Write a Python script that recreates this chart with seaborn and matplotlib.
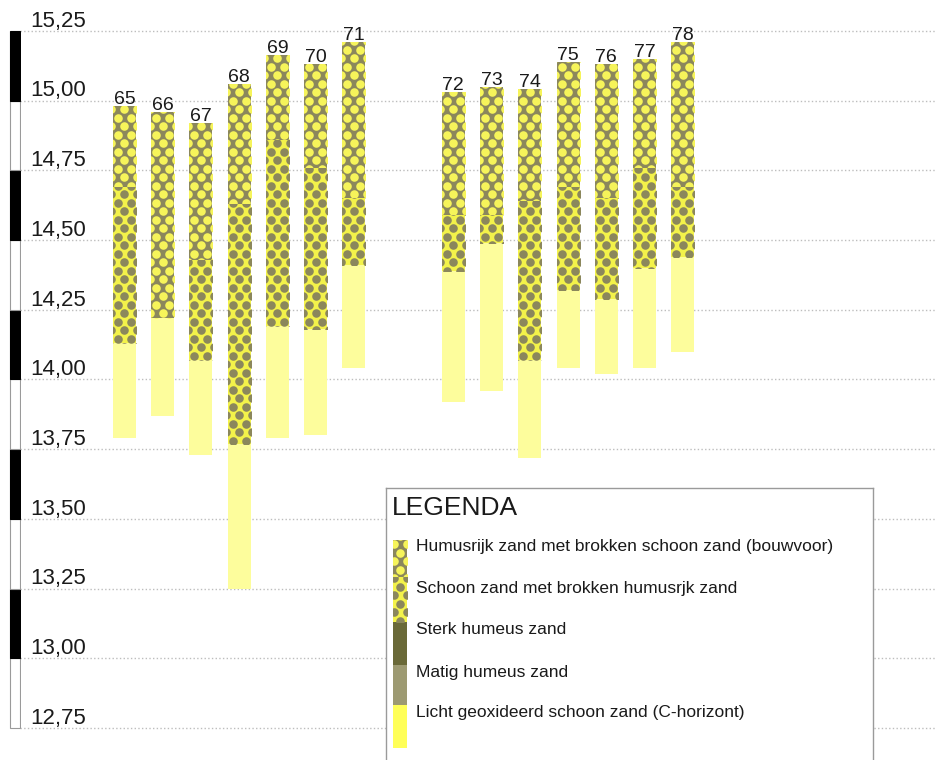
"""
Bodemprofielen 65-78: opbouw van de bodem per boorpunt, getekend als gestapelde kolommen
op een hoogteschaal (m), met een eigen legenda-kader.
"""
import numpy as np
import pandas as pd
import matplotlib
matplotlib.use("Agg")
import matplotlib.pyplot as plt
from matplotlib.patches import Rectangle
import seaborn as sns

profielen = [65, 66, 67, 68, 69, 70, 71, 72, 73, 74, 75, 76, 77, 78]
maaiveld = [14.98, 14.96, 14.92, 15.06, 15.165, 15.13, 15.21,
            15.03, 15.05, 15.04, 15.14, 15.13, 15.15, 15.21]
bouwvoor_onder = [14.69, 14.22, 14.43, 14.63, 14.86, 14.76, 14.65,
                  14.59, 14.59, 14.64, 14.69, 14.65, 14.76, 14.69]
menglaag_onder = [14.13, 14.22, 14.07, 13.77, 14.19, 14.18, 14.41,
                  14.39, 14.49, 14.07, 14.32, 14.29, 14.40, 14.44]
c_horizont_onder = [13.79, 13.87, 13.73, 13.25, 13.79, 13.80, 14.04,
                    13.92, 13.96, 13.72, 14.04, 14.02, 14.04, 14.10]

hoogte_ticks = [12.75, 13.00, 13.25, 13.50, 13.75, 14.00,
                14.25, 14.50, 14.75, 15.00, 15.25]

legenda_labels = [
    "Humusrijk zand met brokken schoon zand (bouwvoor)",
    "Schoon zand met brokken humusrjk zand",
    "Sterk humeus zand",
    "Matig humeus zand",
    "Licht geoxideerd schoon zand (C-horizont)",
]

# --- stijl ------------------------------------------------------------------
OLIJF = "#8b875c"
GEEL = "#f3f24a"
GEEL_STIP = "#f6f45a"
BLEEK = "#fdfd9c"
STERK = "#6a6938"
MATIG = "#9d9a72"
LICHT = "#ffff58"
TEKST = "#1a1a1a"

W, H = 936, 760
GROEP_GAT = 1.6            # extra ruimte tussen profiel 71 en 72
DOT_DX, DOT_DY = 13, 8.5   # stippenraster in pixels
DOT_SIZE = 38

sns.set_style("white")
plt.rcParams["font.family"] = ["Liberation Sans", "DejaVu Sans"]


def stippen(ax, bars, kleur, px_per_x, px_per_y):
    """Vul elke balk met een verspringend stippenpatroon (geclipt op de balk)."""
    dx = DOT_DX / px_per_x
    dy = DOT_DY / px_per_y
    for bar in bars:
        x0, y0 = bar.get_x(), bar.get_y()
        w, h = bar.get_width(), bar.get_height()
        if h <= 0:
            continue
        ylo, yhi = min(y0, y0 + h), max(y0, y0 + h)
        xs, ys = [], []
        for r in np.arange(np.floor(ylo / dy) - 1, np.ceil(yhi / dy) + 2):
            start = x0 + w / 2 - dx / 2 if r % 2 == 0 else x0 + w / 2 - dx
            cols = start + dx * np.arange(-1, int(np.ceil(w / dx)) + 3)
            xs.extend(cols)
            ys.extend([r * dy] * len(cols))
        pts = ax.scatter(xs, ys, s=DOT_SIZE, color=kleur, linewidths=0,
                         zorder=bar.get_zorder() + 0.1)
        pts.set_clip_path(bar)


df = pd.DataFrame({
    "profiel": profielen,
    "maaiveld": maaiveld,
    "bouwvoor": bouwvoor_onder,
    "menglaag": menglaag_onder,
    "c_horizont": c_horizont_onder,
})
df["x"] = np.arange(len(df)) + np.where(df["profiel"] >= 72, GROEP_GAT, 0.0)

fig = plt.figure(figsize=(W / 100, H / 100), dpi=100)
ax = fig.add_axes([20 / W, 0, 916 / W, 1])

xlim = (-2.73, -2.73 + 916 / 38.25)
ylim = (12.635, 15.361)

lagen = [
    ("maaiveld", "bouwvoor", OLIJF, GEEL_STIP),
    ("bouwvoor", "menglaag", GEEL, OLIJF),
    ("menglaag", "c_horizont", BLEEK, None),
]
containers = []
for boven, onder, kleur, _ in lagen:
    sns.barplot(x=df["x"], y=df[boven] - df[onder], bottom=df[onder].to_numpy(),
                native_scale=True, width=0.6, color=kleur, saturation=1,
                errorbar=None, linewidth=0, ax=ax, zorder=2)
    containers.append(ax.containers[-1])

ax.set_xlim(*xlim)
ax.set_ylim(*ylim)
px_x = 916 / (xlim[1] - xlim[0])
px_y = H / (ylim[1] - ylim[0])
for (boven, onder, kleur, stip), bars in zip(lagen, containers):
    if stip is not None:
        stippen(ax, bars, stip, px_x, px_y)

# profielnummers boven de kolommen
for xpos, top, nr in zip(df["x"], df["maaiveld"], df["profiel"]):
    ax.annotate(str(nr), xy=(xpos, top), xytext=(0, 1.5), textcoords="offset points",
                ha="center", va="baseline", fontsize=14, color=TEKST,
                family=["Liberation Sans Narrow", "Liberation Sans", "DejaVu Sans"])

# hoogteschaal: rasterlijnen en labels boven de lijn
ax.set_yticks(hoogte_ticks)
ax.grid(axis="y", color="#bdbdbd", linestyle=":", linewidth=1.0, zorder=0)
ax.grid(axis="x", visible=False)
ax.tick_params(left=False, bottom=False, labelleft=False, labelbottom=False)
ax.set_xlabel("")
ax.set_ylabel("")
for s in ax.spines.values():
    s.set_visible(False)
for t in hoogte_ticks:
    ax.annotate(f"{t:.2f}".replace(".", ","), xy=(0, t),
                xycoords=("axes fraction", "data"), xytext=(7.5, 3),
                textcoords="offset points", ha="left", va="baseline",
                fontsize=16, color=TEKST)

# zwart-witte schaalbalk links
sax = fig.add_axes([9 / W, 0, 12 / W, 1])
for lo, hi in zip(hoogte_ticks[:-1], hoogte_ticks[1:]):
    zwart = round((lo - hoogte_ticks[0]) / 0.25) % 2 == 1
    sax.bar(0, hi - lo, bottom=lo, width=0.8,
            color="black" if zwart else "white",
            edgecolor="black" if zwart else "#9a9a9a", linewidth=0.8)
sax.set_xlim(-0.5, 0.5)
sax.set_ylim(*ylim)
sax.axis("off")

# legenda-kader (coordinaten in pixels)
lax = fig.add_axes([386 / W, 0, 487 / W, 1 - 488 / H], zorder=3)
lax.set_xlim(386, 873)
lax.set_ylim(760, 488)
lax.set_facecolor("white")
lax.set_xticks([])
lax.set_yticks([])
for side in ["top", "left", "right"]:
    lax.spines[side].set_visible(True)
    lax.spines[side].set_color("#9a9a9a")
    lax.spines[side].set_linewidth(1.0)
lax.spines["bottom"].set_visible(False)

lax.text(392, 508, "LEGENDA", fontsize=19, color=TEKST, ha="left", va="center")
vakken = [(540, 577), (577, 622), (622, 665), (665, 705), (705, 748)]
vulling = [OLIJF, GEEL, STERK, MATIG, LICHT]
stip_kleur = [GEEL_STIP, OLIJF, None, None, None]
tekst_y = [547, 588, 630, 672, 712]
for (y0, y1), kleur, stip, label, ty in zip(vakken, vulling, stip_kleur,
                                           legenda_labels, tekst_y):
    vak = Rectangle((393, y0), 14, y1 - y0, facecolor=kleur, linewidth=0, zorder=2)
    lax.add_patch(vak)
    if stip is not None:
        stippen(lax, [vak], stip, 1.0, 1.0)
    lax.text(416, ty, label, fontsize=12.5, color=TEKST, ha="left", va="center")
lax.set_xlim(386, 873)
lax.set_ylim(760, 488)

fig.savefig("out.png", dpi=100)
